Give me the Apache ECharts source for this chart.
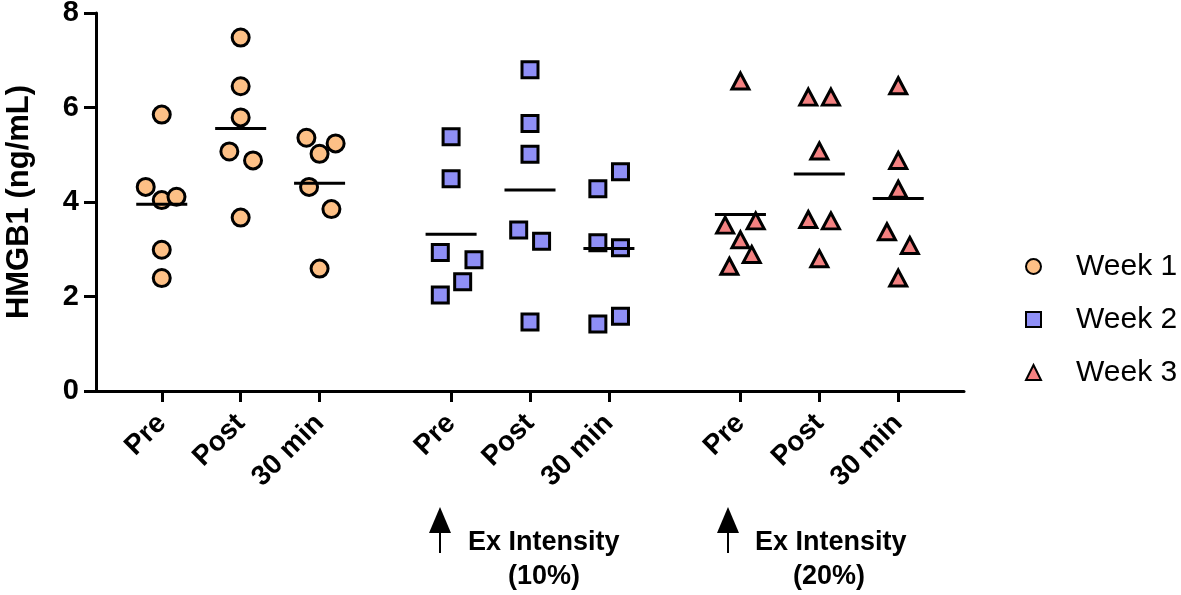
<!DOCTYPE html>
<html>
<head>
<meta charset="utf-8">
<script src="https://cdn.jsdelivr.net/npm/echarts@6/dist/echarts.min.js"></script>
<style>
    html, body { margin: 0; padding: 0; background: #fff; }
    #main { width: 1181px; height: 595px; }
</style>
</head>
<body>
<div id="main"></div>
<script>
    // time points repeated in each block, slot index of each tick on the x axis
    const timepoints = ['Pre', 'Post', '30 min'];
    const tickPos = [2, 5, 8, 13, 16, 19, 24, 27, 30];
    const weekNames = ['Week 1', 'Week 2', 'Week 3'];

    // HMGB1 (ng/mL), one array per time point: Pre, Post, 30 min
    const week1Values = [
        [5.85, 4.32, 4.04, 4.11, 2.99, 2.39],
        [7.48, 6.45, 5.79, 5.07, 4.88, 3.67],
        [5.36, 5.24, 5.02, 4.32, 3.85, 2.59]
    ];
    const week2Values = [
        [5.38, 4.49, 2.93, 2.78, 2.31, 2.03],
        [6.80, 5.66, 5.01, 3.41, 3.17, 1.46],
        [4.64, 4.28, 3.14, 3.03, 1.58, 1.42]
    ];
    const week3Values = [
        [6.56, 3.51, 3.60, 3.20, 2.89, 2.64],
        [6.22, 6.22, 5.08, 3.63, 3.60, 2.80],
        [6.46, 4.88, 4.27, 3.37, 3.08, 2.39]
    ];
    // horizontal spread of the points around their tick (in slots)
    const week1Jitter = [
        [0, -0.61, 0, 0.56, 0, 0],
        [0, 0, 0, -0.43, 0.47, 0],
        [-0.5, 0.61, 0, -0.4, 0.45, 0]
    ];
    const week2Jitter = [
        [0, 0, -0.41, 0.87, 0.44, -0.41],
        [0, 0, 0, -0.43, 0.44, 0],
        [0.44, -0.42, -0.42, 0.44, 0.44, -0.42]
    ];
    const week3Jitter = [
        [0, -0.58, 0.58, 0, 0.43, -0.42],
        [-0.42, 0.44, 0, -0.42, 0.44, 0],
        [0, 0, 0, -0.43, 0.44, 0]
    ];

    const weekValues = [week1Values, week2Values, week3Values];
    const weekJitter = [week1Jitter, week2Jitter, week3Jitter];
    const symbols = ['circle', 'rect', 'triangle'];
    const sizes = [17, 16, [17, 16]];
    const fills = ['#FDC086', '#8F8FF6', '#F38181'];
    const font = 'Liberation Sans, Arial, Helvetica, sans-serif';

    let series = [];
    for (let w = 0; w < 3; w++) {
        let points = [];
        let means = [];
        for (let t = 0; t < 3; t++) {
            let pos = tickPos[w * 3 + t];
            let vals = weekValues[w][t];
            vals.forEach((v, i) => {
                points.push([pos + weekJitter[w][t][i], v]);
            });
            let sum = vals.reduce((a, b) => a + b, 0);
            means.push([pos, sum / vals.length]);
        }
        series.push({
            name: weekNames[w],
            type: 'scatter',
            symbol: symbols[w],
            symbolSize: sizes[w],
            itemStyle: {
                color: fills[w],
                borderColor: '#000',
                borderWidth: 3,
                borderJoin: 'miter',
                opacity: 1
            },
            z: 3,
            data: points
        });
        series.push({
            name: 'mean ' + weekNames[w],
            type: 'custom',
            silent: true,
            z: 5,
            renderItem: function (params, api) {
                let c = api.value(0), m = api.value(1);
                let p1 = api.coord([c - 0.97, m]);
                let p2 = api.coord([c + 0.97, m]);
                return {
                    type: 'line',
                    shape: { x1: p1[0], y1: p1[1], x2: p2[0], y2: p2[1] },
                    style: { stroke: '#000', lineWidth: 3 }
                };
            },
            data: means
        });
    }

    const arrow = (x) => ({
        type: 'group',
        children: [
            { type: 'line', shape: { x1: x, y1: 553, x2: x, y2: 528 }, style: { stroke: '#000', lineWidth: 2 } },
            { type: 'polygon', shape: { points: [[x - 11, 533], [x + 11, 533], [x, 507]] }, style: { fill: '#000' } }
        ]
    });
    const note = (x, y, text, align) => ({
        type: 'text',
        x: x, y: y,
        style: { text: text, font: 'bold 27px ' + font, fill: '#000', align: align, verticalAlign: 'middle' }
    });

    let chart = echarts.init(document.getElementById('main'));
    chart.setOption({
        backgroundColor: '#fff',
        animation: false,
        grid: { left: 96, right: 217, top: 13, bottom: 204, outerBoundsMode: 'none', containLabel: false },
        legend: {
            data: weekNames,
            orient: 'vertical',
            left: 1025,
            top: 251,
            padding: 0,
            itemWidth: 15,
            itemHeight: 15,
            itemGap: 22,
            textStyle: { fontFamily: font, fontSize: 30, color: '#000', lineHeight: 31, padding: [0, 0, 0, 30] }
        },
        xAxis: {
            type: 'value',
            min: -0.5,
            max: 32.5,
            splitLine: { show: false },
            axisLine: { onZero: false, lineStyle: { color: '#000', width: 3 } },
            axisTick: { length: 11, lineStyle: { color: '#000', width: 3 }, customValues: tickPos },
            axisLabel: {
                customValues: tickPos,
                rotate: 45,
                margin: 28,
                fontFamily: font,
                fontWeight: 'bold',
                fontSize: 28,
                color: '#000',
                formatter: function (v) {
                    return timepoints[tickPos.indexOf(v) % 3];
                }
            }
        },
        yAxis: {
            type: 'value',
            min: 0,
            max: 8,
            interval: 2,
            name: 'HMGB1 (ng/mL)',
            nameLocation: 'middle',
            nameGap: 61,
            nameTextStyle: { fontFamily: font, fontWeight: 'bold', fontSize: 31, color: '#000' },
            splitLine: { show: false },
            axisLine: { show: true, onZero: false, lineStyle: { color: '#000', width: 3 } },
            axisTick: { show: true, length: 12, lineStyle: { color: '#000', width: 3 } },
            axisLabel: { margin: 17, fontFamily: font, fontWeight: 'bold', fontSize: 29, color: '#000' }
        },
        graphic: [
            arrow(440), note(468, 543, 'Ex Intensity', 'left'), note(544, 577, '(10%)', 'center'),
            arrow(728), note(755, 543, 'Ex Intensity', 'left'), note(829, 577, '(20%)', 'center')
        ],
        series: series
    });
</script>
</body>
</html>
